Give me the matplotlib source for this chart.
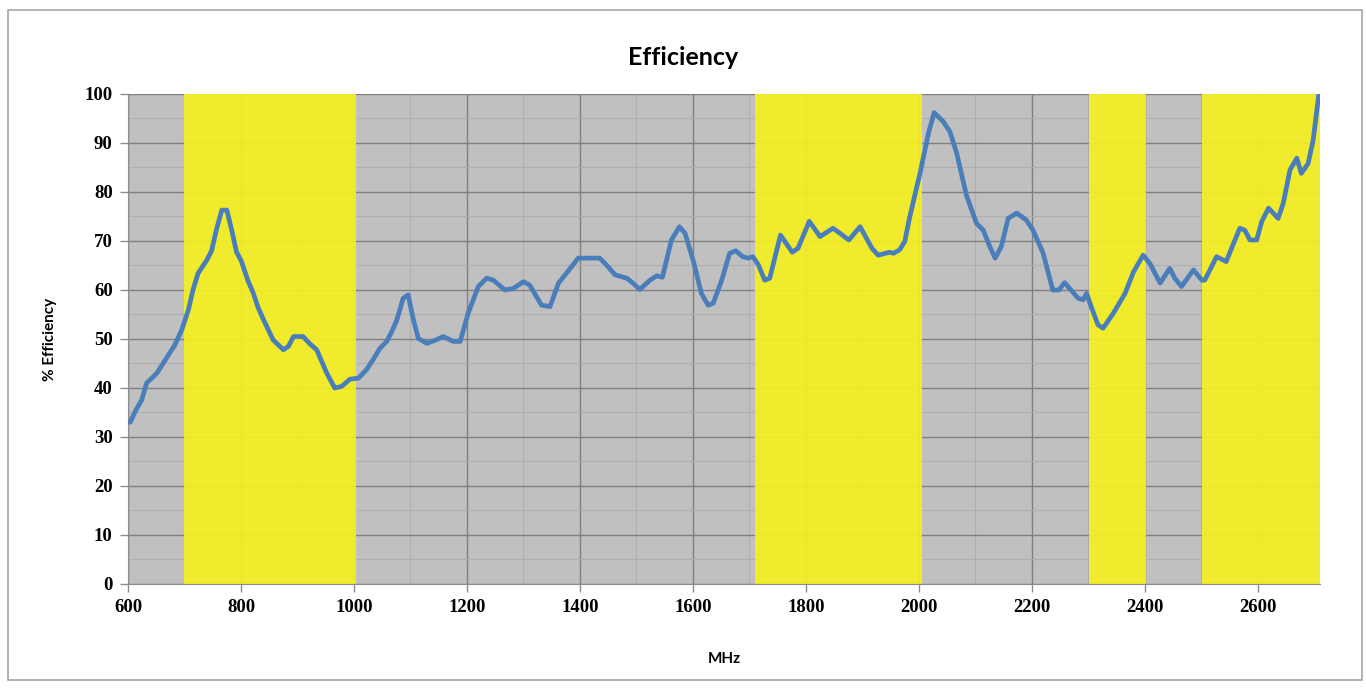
import numpy as np
import matplotlib.pyplot as plt
from matplotlib.patches import Rectangle
from matplotlib.ticker import MultipleLocator

# -----------------------------
# Data
# -----------------------------

freq_mhz = [604, 614, 624, 633, 651, 662, 683, 695, 707, 715, 724, 739, 748, 757,
            766, 775, 784, 792, 801, 812, 822, 830, 840, 857, 875, 884, 893, 910,
            922, 934, 952, 966, 978, 993, 1008, 1022, 1035, 1046, 1058, 1067, 1076,
            1087, 1096, 1105, 1114, 1129, 1145, 1158, 1176, 1188, 1202, 1220, 1235,
            1247, 1267, 1282, 1300, 1311, 1332, 1347, 1362, 1376, 1397, 1418, 1435,
            1447, 1462, 1483, 1494, 1506, 1524, 1536, 1546, 1562, 1576, 1586, 1601,
            1615, 1627, 1636, 1651, 1665, 1676, 1688, 1698, 1706, 1716, 1727, 1736,
            1755, 1776, 1786, 1806, 1825, 1848, 1860, 1876, 1896, 1917, 1928, 1948,
            1955, 1966, 1975, 1984, 2002, 2017, 2027, 2043, 2055, 2067, 2084, 2102,
            2114, 2125, 2135, 2146, 2158, 2173, 2190, 2202, 2220, 2237, 2248, 2258,
            2267, 2282, 2291, 2297, 2305, 2317, 2326, 2344, 2365, 2380, 2397, 2409,
            2427, 2444, 2453, 2465, 2486, 2501, 2506, 2527, 2544, 2568, 2577, 2586,
            2598, 2607, 2619, 2636, 2645, 2657, 2669, 2677, 2689, 2698, 2708]

efficiency = [33, 35.5, 37.5, 41, 43, 45, 48.8, 51.8, 56, 60, 63.4, 66, 68, 72.5,
              76.3, 76.3, 72, 67.8, 65.8, 62, 59.3, 56.5, 53.9, 49.8, 47.8, 48.5, 50.5, 50.5,
              49, 47.8, 43, 40, 40.3, 41.8, 42, 43.7, 46, 48.1, 49.5, 51.5, 53.9,
              58.3, 59, 54, 50.1, 49.1, 49.8, 50.5, 49.5, 49.5, 55.2, 60.7, 62.4,
              62, 60, 60.3, 61.7, 61, 56.9, 56.6, 61.4, 63.4, 66.5, 66.5, 66.5,
              65.1, 63.1, 62.4, 61.4, 60.1, 62, 62.9, 62.6, 70.2, 72.9, 71.6, 65.8,
              59.3, 56.9, 57.3, 62, 67.5, 68, 66.8, 66.5, 66.8, 65.1, 62, 62.4,
              71.2, 67.7, 68.5, 74, 70.9, 72.6, 71.6, 70.2, 72.9, 68.5, 67.1, 67.7,
              67.5, 68.2, 69.9, 75, 83.8, 92, 96.2, 94.4, 92.3, 87.9, 79.4, 73.6,
              72.2, 69, 66.5, 68.9, 74.6, 75.7, 74.3, 72.2, 67.5, 60, 60, 61.5,
              60.3, 58.3, 58, 59.3, 56.6, 52.9, 52.2, 55.2, 59.3, 63.7, 67.1, 65.4,
              61.4, 64.4, 62.4, 60.7, 64.1, 62, 62, 66.8, 65.8, 72.6, 72.2, 70.2,
              70.2, 74, 76.7, 74.6, 77.7, 84.5, 86.9, 83.8, 85.8, 90.6, 100]

# highlighted frequency bands (start, end) in MHz
bands = [(700, 1003), (1710, 2006), (2301, 2402), (2502, 2710)]

# -----------------------------
# Plot
# -----------------------------

fig = plt.figure(figsize=(13.66, 6.88), dpi=100)
ax = fig.add_axes([0.0937, 0.1512, 0.8726, 0.7122])

ax.set_facecolor("#C0C0C0")

for start, end in bands:
    ax.axvspan(start, end, color="#F4EF22", alpha=0.93, lw=0, zorder=1)

ax.plot(freq_mhz, efficiency, color="#4A7EBB", lw=3.4, zorder=3,
        solid_joinstyle="round", solid_capstyle="round")

ax.set_xlim(600, 2710)
ax.set_ylim(0, 100)
ax.xaxis.set_major_locator(MultipleLocator(200))
ax.xaxis.set_minor_locator(MultipleLocator(100))
ax.yaxis.set_major_locator(MultipleLocator(10))
ax.yaxis.set_minor_locator(MultipleLocator(5))

ax.set_axisbelow(True)
ax.grid(which="major", color="#7F7F7F", lw=1.0, zorder=0.5)
ax.grid(which="minor", color="#AFAFAF", lw=0.8, zorder=0.4)

for side in ["top", "right"]:
    ax.spines[side].set_visible(False)
for side in ["left", "bottom"]:
    ax.spines[side].set_color("#8C8C8C")

ax.tick_params(which="major", length=6, color="#8C8C8C", width=1,
               labelsize=13.5, pad=5)
ax.tick_params(which="minor", length=0)
for lbl in ax.get_xticklabels() + ax.get_yticklabels():
    lbl.set_fontfamily("Liberation Serif")
    lbl.set_fontweight("bold")

ax.set_xlabel("MHz", fontsize=11, fontweight="bold", family="Lato", labelpad=26)
ax.set_ylabel("% Efficiency", fontsize=11, fontweight="bold", family="Lato", labelpad=20)
fig.text(0.5, 0.916, "Efficiency", ha="center", va="center",
         fontsize=18, fontweight="bold", family="Lato")

# chart frame
fig.patches.append(Rectangle((0.006, 0.012), 0.991, 0.974, transform=fig.transFigure,
                             fill=False, edgecolor="#A6A6A6", lw=1.2))

fig.savefig("out.png", dpi=100)
